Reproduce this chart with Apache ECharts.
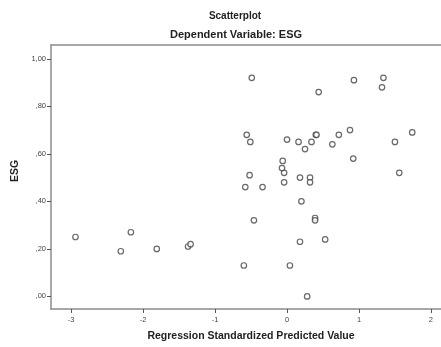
<!DOCTYPE html>
<html>
	<head>
		<meta charset="utf-8" />
		<title>Scatterplot</title>
		<style>
			html, body { margin: 0; padding: 0; background: #fff; }
			#chart { width: 441px; height: 347px; }
		</style>
	</head>
	<body>
		<div id="chart"></div>

		<script src="https://cdn.jsdelivr.net/npm/echarts@6/dist/echarts.min.js"></script>
		<script type="text/javascript">
			// regression standardized predicted value (x) and ESG (y)
			const predicted = [
				-2.94, -2.31, -2.17, -1.81, -1.375, -1.34,
				-0.60, -0.46, -0.58, -0.34, -0.52, -0.56, -0.51, -0.49,
				-0.04, -0.04, -0.07, -0.06, 0.00, 0.04,
				0.16, 0.25, 0.34, 0.40, 0.41, 0.63, 0.72, 0.875, 0.92, 0.93, 0.44,
				1.32, 1.34, 1.50, 1.56, 1.74,
				0.18, 0.32, 0.32, 0.20, 0.39, 0.39, 0.18, 0.53, 0.28
			];
			const esg = [
				0.25, 0.19, 0.27, 0.20, 0.21, 0.22,
				0.13, 0.32, 0.46, 0.46, 0.51, 0.68, 0.65, 0.92,
				0.48, 0.52, 0.54, 0.57, 0.66, 0.13,
				0.65, 0.62, 0.65, 0.68, 0.68, 0.64, 0.68, 0.70, 0.58, 0.91, 0.86,
				0.88, 0.92, 0.65, 0.52, 0.69,
				0.50, 0.50, 0.48, 0.40, 0.33, 0.32, 0.23, 0.24, 0.00
			];
			const xTicks = [-3, -2, -1, 0, 1, 2];
			const yTicks = [0, 0.2, 0.4, 0.6, 0.8, 1.0];

			const font = 'Liberation Sans, Arial, sans-serif';
			const axisGrey = '#8c8c8c';
			const points = predicted.map((x, i) => [x, esg[i]]);
			const fmtY = v => v.toFixed(2).replace('.', ',').replace(/^0/, '');

			const chart = echarts.init(document.getElementById('chart'));
			chart.setOption({
				animation: false,
				title: [
					{
						text: 'Scatterplot',
						left: 230, top: 6, textAlign: 'center',
						textStyle: { fontFamily: font, fontSize: 10, fontWeight: 'bold', color: '#222' },
					},
					{
						text: 'Dependent Variable: ESG',
						left: 231, top: 24, textAlign: 'center',
						textStyle: { fontFamily: font, fontSize: 11, fontWeight: 'bold', color: '#222' },
					},
				],
				grid: { left: 51, top: 45, right: 0, bottom: 35 },
				xAxis: [
					{
						type: 'value',
						min: -3.28, max: 2.14,
						name: 'Regression Standardized Predicted Value',
						nameLocation: 'middle', nameGap: 22,
						nameTextStyle: { fontFamily: font, fontSize: 10.5, fontWeight: 'bold', color: '#222', padding: [0, 0, 0, 10] },
						splitLine: { show: false },
						axisLine: { onZero: false, lineStyle: { color: axisGrey, width: 1.5 } },
						axisTick: { customValues: xTicks, length: 4, lineStyle: { color: '#555' } },
						axisLabel: { customValues: xTicks, margin: 7, fontFamily: font, fontSize: 7.5, color: '#444' },
					},
					{
						type: 'value', position: 'top',
						min: -3.28, max: 2.14,
						splitLine: { show: false },
						axisLine: { onZero: false, lineStyle: { color: axisGrey, width: 1.5 } },
						axisTick: { show: false },
						axisLabel: { show: false },
					},
				],
				yAxis: {
					type: 'value',
					min: -0.053, max: 1.058,
					name: 'ESG',
					nameLocation: 'middle', nameGap: 23, nameRotate: 90,
					nameTextStyle: { fontFamily: font, fontSize: 10.5, fontWeight: 'bold', color: '#222', padding: [0, 0, 0, 12] },
					splitLine: { show: false },
					axisLine: { show: true, onZero: false, lineStyle: { color: axisGrey, width: 1.5 } },
					axisTick: { show: true, customValues: yTicks, length: 4, lineStyle: { color: '#555' } },
					axisLabel: { customValues: yTicks, margin: 5, formatter: fmtY, fontFamily: font, fontSize: 7.5, color: '#444' },
				},
				series: [
					{
						type: 'scatter',
						data: points,
						symbol: 'circle',
						symbolSize: 5.5,
						itemStyle: { color: '#fff', borderColor: '#444', borderWidth: 1.2 },
					},
				],
			});
		</script>
	</body>
</html>
